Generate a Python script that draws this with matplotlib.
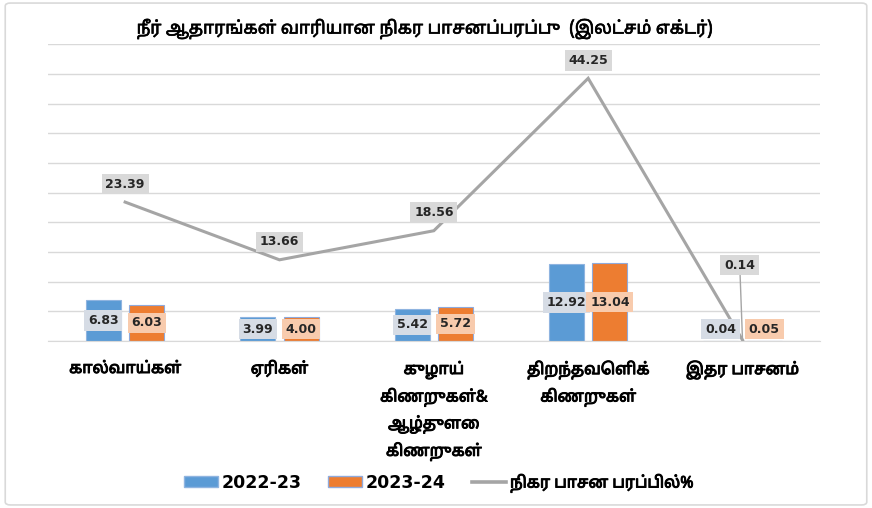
import matplotlib
matplotlib.use("Agg")
import matplotlib.pyplot as plt
import matplotlib.patheffects as pe
from matplotlib.patches import Patch, FancyBboxPatch
from matplotlib.lines import Line2D
import numpy as np

plt.rcParams['font.family'] = ['Noto Sans Tamil', 'Lohit Tamil', 'DejaVu Sans']

# data
categories = ["கால்வாய்கள்", "ஏரிகள்",
              "குழாய்\nகிணறுகள்&\nஆழ்துளை\nகிணறுகள்",
              "திறந்தவெளிக்\nகிணறுகள்", "இதர பாசனம்"]
area_2022_23 = [6.83, 3.99, 5.42, 12.92, 0.04]
area_2023_24 = [6.03, 4.00, 5.72, 13.04, 0.05]
share_pct = [23.39, 13.66, 18.56, 44.25, 0.14]
series_names = ["2022-23", "2023-24", "நிகர பாசன பரப்பில்%"]
title = "நீர் ஆதாரங்கள் வாரியான நிகர பாசனப்பரப்பு  (இலட்சம் எக்டர்)"

blue = '#5B9BD5'
orange = '#ED7D31'
gray = '#A5A5A5'
grid_col = '#D9D9D9'
# faux bold for the tamil font (no bold face available)
fake_bold = [pe.withStroke(linewidth=0.7, foreground='black')]

fig = plt.figure(figsize=(8.72, 5.08), dpi=100)
ax = fig.add_axes([0.055, 0.329, 0.885, 0.584])

# chart border
fig.patches.append(FancyBboxPatch((0.006, 0.006), 0.988, 0.988, boxstyle="round,pad=0,rounding_size=0.006",
                                  transform=fig.transFigure, fill=False, edgecolor='#D9D9D9', lw=1.2))

x = np.arange(len(categories))
w = 0.227
off = 0.141
ax.bar(x - off, area_2022_23, w, color=blue, edgecolor='#8FB4E0', lw=0.8, zorder=2)
ax.bar(x + off, area_2023_24, w, color=orange, edgecolor='#8FAADC', lw=0.8, zorder=2)
ax.plot(x, share_pct, color=gray, lw=2.2, zorder=3, solid_joinstyle='miter')

# bar value labels (centred in bar, kept off the baseline)
for xi, v in zip(x, area_2022_23):
    ax.text(xi - off, max(v / 2, 2.0), f"{v:.2f}", ha='center', va='center', fontsize=9,
            fontweight='bold', family='DejaVu Sans', color='#262626', zorder=4,
            bbox=dict(boxstyle='square,pad=0.3', fc='#D6DCE5', ec='none'))
for xi, v in zip(x, area_2023_24):
    ax.text(xi + off, max(v / 2, 2.0), f"{v:.2f}", ha='center', va='center', fontsize=9,
            fontweight='bold', family='DejaVu Sans', color='#262626', zorder=4,
            bbox=dict(boxstyle='square,pad=0.3', fc='#F8CBAD', ec='none'))

# line value labels
for i, v in enumerate(share_pct):
    if i == len(share_pct) - 1:
        ax.annotate(f"{v:.2f}", xy=(x[i], v), xytext=(-2, 54), textcoords='offset points',
                    ha='center', va='center', fontsize=9, fontweight='bold', family='DejaVu Sans',
                    color='#262626', zorder=4,
                    bbox=dict(boxstyle='square,pad=0.3', fc='#D9D9D9', ec='none'),
                    arrowprops=dict(arrowstyle='-', color=gray, lw=1.0, shrinkA=0, shrinkB=0))
    else:
        ax.annotate(f"{v:.2f}", xy=(x[i], v), xytext=(0, 13), textcoords='offset points',
                    ha='center', va='center', fontsize=9, fontweight='bold', family='DejaVu Sans',
                    color='#262626', zorder=4,
                    bbox=dict(boxstyle='square,pad=0.3', fc='#D9D9D9', ec='none'))

ax.set_xlim(-0.5, len(categories) - 0.5)
ax.set_ylim(0, 50)
ax.set_yticks(np.arange(0, 51, 5))
ax.yaxis.grid(True, color=grid_col, lw=1.0)
ax.set_axisbelow(True)
ax.tick_params(axis='y', left=False, labelleft=False)
ax.tick_params(axis='x', bottom=False, pad=11)
ax.set_xticks(x)
ax.set_xticklabels(categories, fontsize=11.5, linespacing=1.7, va='top')
for t in ax.get_xticklabels():
    t.set_path_effects(fake_bold)
for s in ['top', 'right', 'left']:
    ax.spines[s].set_visible(False)
ax.spines['bottom'].set_color(grid_col)

fig.text(0.487, 1 - 29 / 508, title, ha='center', va='center', fontsize=12.5,
         path_effects=[pe.withStroke(linewidth=0.5, foreground='black')])

handles = [Patch(fc=blue, ec='#8FB4E0'), Patch(fc=orange, ec='#8FAADC'), Line2D([], [], color=gray, lw=2.6)]
leg = fig.legend(handles, series_names, loc='center', bbox_to_anchor=(0.503, 1 - 483 / 508), ncol=3,
                 frameon=False, fontsize=12, handlelength=2.0, handleheight=0.6, columnspacing=1.6,
                 handletextpad=0.25)
texts = leg.get_texts()
for t in texts[:2]:
    t.set_family('DejaVu Sans')
    t.set_fontweight('bold')
    t.set_fontsize(12.5)
texts[2].set_fontsize(11.5)
texts[2].set_path_effects(fake_bold)

fig.savefig('out.png', dpi=100)
